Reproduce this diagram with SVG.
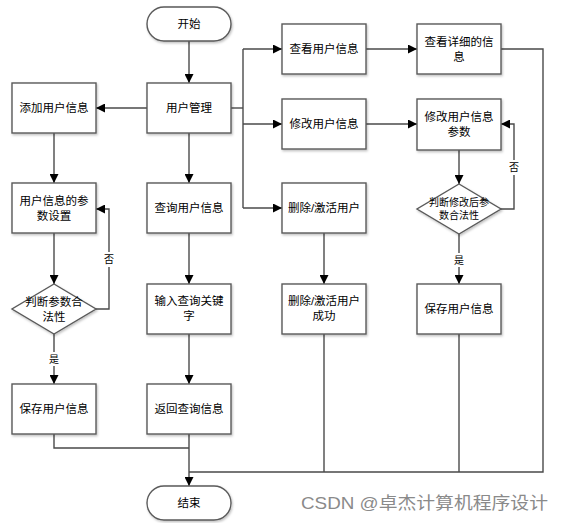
<svg xmlns="http://www.w3.org/2000/svg" width="567" height="523" viewBox="0 0 567 523">
<defs>
<marker id="arr" viewBox="0 0 10 10" refX="10" refY="5" markerWidth="9" markerHeight="9" markerUnits="userSpaceOnUse" orient="auto">
<path d="M0,0 L10,5 L0,10 Z" fill="#000"/>
</marker>
<filter id="sh" x="-10%" y="-10%" width="120%" height="130%">
<feDropShadow dx="1" dy="1.5" stdDeviation="0.8" flood-color="#000" flood-opacity="0.25"/>
</filter>
</defs>
<style>
.box{fill:#fff;stroke:#5a5a5a;stroke-width:1.4;filter:url(#sh)}
.t{font-family:"Liberation Sans","Noto Sans CJK SC",sans-serif;font-size:11.5px;fill:#000;text-anchor:middle;dominant-baseline:central}
.s{font-size:10px}
.c{fill:none;stroke:#4a4a4a;stroke-width:1.4}
.a{marker-end:url(#arr)}
.lbl{font-family:"Liberation Sans","Noto Sans CJK SC",sans-serif;font-size:10px;fill:#000;text-anchor:middle;dominant-baseline:central}
.wm{font-family:"Liberation Sans","Noto Sans CJK SC",sans-serif;font-size:17px;fill:#8a8a8a}
</style>
<rect width="567" height="523" fill="#fff"/>
<g id="connectors">
<path class="c a" d="M189,41 V83"/>
<path class="c a" d="M147,108 H96"/>
<path class="c a" d="M189,133 V183"/>
<path class="c" d="M231,108 H243"/>
<path class="c" d="M243,49 V208"/>
<path class="c a" d="M243,49 H282"/>
<path class="c a" d="M243,124 H282"/>
<path class="c a" d="M243,208 H282"/>
<path class="c a" d="M366,49 H417"/>
<path class="c" d="M501,49 H543 V472 H189"/>
<path class="c a" d="M366,124 H417"/>
<path class="c a" d="M459,150 V184"/>
<path class="c a" d="M501,209 H514 V124 H501"/>
<path class="c a" d="M459,234 V284"/>
<path class="c" d="M459,334 V472"/>
<path class="c a" d="M324,233 V284"/>
<path class="c" d="M324,334 V472"/>
<path class="c a" d="M54,133 V183"/>
<path class="c a" d="M54,233 V284"/>
<path class="c a" d="M96,309 H109 V209 H96"/>
<path class="c a" d="M54,334 V384"/>
<path class="c" d="M54,434 V448 H189"/>
<path class="c a" d="M189,233 V284"/>
<path class="c a" d="M189,334 V384"/>
<path class="c a" d="M189,434 V486"/>
<rect x="505" y="160" width="18" height="15" fill="#fff"/>
<text class="lbl" x="514" y="167">否</text>
<rect x="452" y="253" width="14" height="14" fill="#fff"/>
<text class="lbl" x="459" y="260">是</text>
<rect x="100" y="252" width="18" height="15" fill="#fff"/>
<text class="lbl" x="109" y="259">否</text>
<rect x="47" y="352" width="14" height="14" fill="#fff"/>
<text class="lbl" x="54" y="359">是</text>
</g>
<g id="start"><rect class="box" x="147" y="7" width="84" height="34" rx="17"/><text class="t" x="189" y="24">开始</text></g>
<g id="mgmt"><rect class="box" x="147" y="83" width="84" height="50"/><text class="t" x="189" y="108">用户管理</text></g>
<g id="add"><rect class="box" x="12" y="83" width="84" height="50"/><text class="t" x="54" y="108">添加用户信息</text></g>
<g id="param"><rect class="box" x="12" y="183" width="84" height="50"/><text class="t" x="54" y="201">用户信息的参</text><text class="t" x="54" y="216">数设置</text></g>
<g id="check1"><path class="box" d="M54,284 L96,309 L54,334 L12,309 Z"/><text class="t" x="54" y="302">判断参数合</text><text class="t" x="54" y="317">法性</text></g>
<g id="save1"><rect class="box" x="12" y="384" width="84" height="50"/><text class="t" x="54" y="409">保存用户信息</text></g>
<g id="query"><rect class="box" x="147" y="183" width="84" height="50"/><text class="t" x="189" y="208">查询用户信息</text></g>
<g id="keyword"><rect class="box" x="147" y="284" width="84" height="50"/><text class="t" x="189" y="301">输入查询关键</text><text class="t" x="189" y="316">字</text></g>
<g id="ret"><rect class="box" x="147" y="384" width="84" height="50"/><text class="t" x="189" y="409">返回查询信息</text></g>
<g id="end"><rect class="box" x="147" y="486" width="84" height="34" rx="17"/><text class="t" x="189" y="503">结束</text></g>
<g id="view"><rect class="box" x="282" y="24" width="84" height="50"/><text class="t" x="324" y="49">查看用户信息</text></g>
<g id="edit"><rect class="box" x="282" y="99" width="84" height="50"/><text class="t" x="324" y="124">修改用户信息</text></g>
<g id="del"><rect class="box" x="282" y="183" width="84" height="50"/><text class="t" x="324" y="208">删除/激活用户</text></g>
<g id="delok"><rect class="box" x="282" y="284" width="84" height="50"/><text class="t" x="324" y="301">删除/激活用户</text><text class="t" x="324" y="316">成功</text></g>
<g id="detail"><rect class="box" x="417" y="24" width="84" height="50"/><text class="t" x="459" y="42">查看详细的信</text><text class="t" x="459" y="57">息</text></g>
<g id="editparam"><rect class="box" x="417" y="99" width="84" height="51"/><text class="t" x="459" y="117">修改用户信息</text><text class="t" x="459" y="132">参数</text></g>
<g id="check2"><path class="box" d="M459,184 L501,209 L459,234 L417,209 Z"/><text class="t s" x="459" y="202">判断修改后参</text><text class="t s" x="459" y="215">数合法性</text></g>
<g id="save2"><rect class="box" x="417" y="284" width="84" height="50"/><text class="t" x="459" y="309">保存用户信息</text></g>
<text class="wm" x="301" y="509" textLength="247" lengthAdjust="spacingAndGlyphs">CSDN @卓杰计算机程序设计</text>
</svg>
